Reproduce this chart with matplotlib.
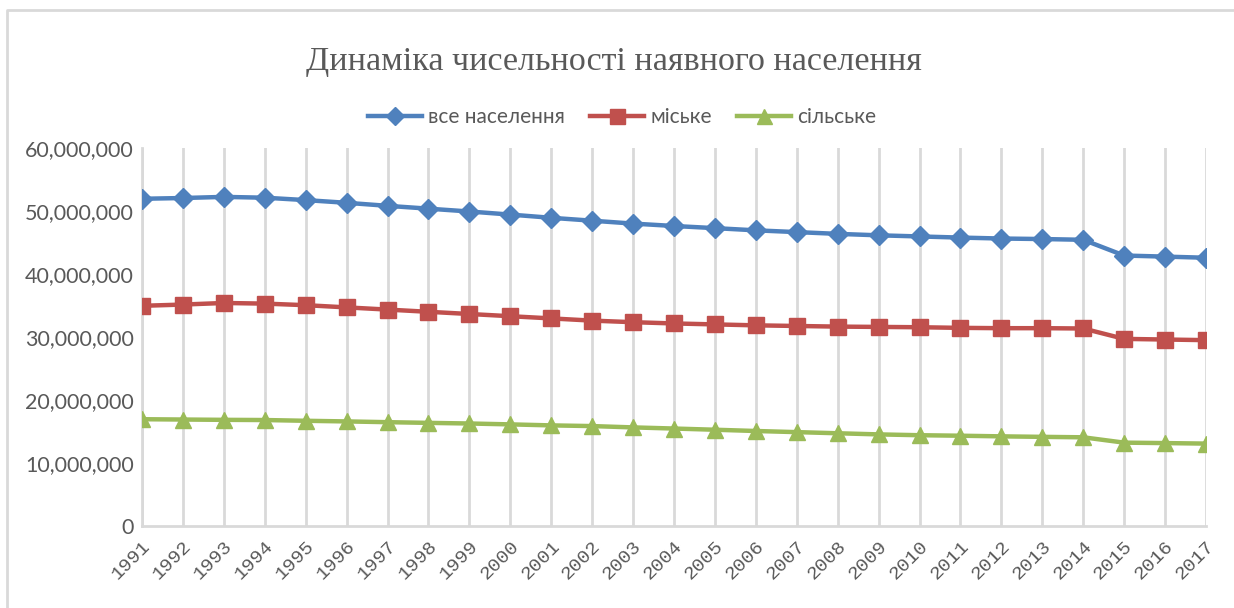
import matplotlib
matplotlib.use("Agg")
import matplotlib.pyplot as plt
from matplotlib.lines import Line2D
from matplotlib.ticker import FuncFormatter

years = list(range(1991, 2018))
total = [51.94, 52.06, 52.24, 52.11, 51.73, 51.30, 50.82, 50.37, 49.92, 49.43,
         48.92, 48.46, 48.00, 47.62, 47.28, 46.93, 46.65, 46.37, 46.14, 45.96,
         45.78, 45.63, 45.55, 45.43, 42.93, 42.76, 42.58]
urban = [34.95, 35.15, 35.40, 35.30, 35.05, 34.70, 34.35, 34.00, 33.65, 33.30,
         32.95, 32.60, 32.35, 32.15, 32.00, 31.85, 31.75, 31.65, 31.60, 31.55,
         31.45, 31.40, 31.40, 31.35, 29.70, 29.60, 29.50]
rural = [16.95, 16.90, 16.85, 16.82, 16.70, 16.60, 16.48, 16.37, 16.27, 16.13,
         15.97, 15.86, 15.65, 15.47, 15.28, 15.08, 14.90, 14.72, 14.54, 14.41,
         14.33, 14.23, 14.15, 14.08, 13.23, 13.16, 13.08]
series_names = ["все населення", "міське", "сільське"]
y_ticks = [0, 10e6, 20e6, 30e6, 40e6, 50e6, 60e6]

colors = ["#4F81BD", "#C0504D", "#9BBB59"]
markers = ["D", "s", "^"]
msizes = [10, 12, 12]
grey = "#595959"
gridc = "#D9D9D9"

fig = plt.figure(figsize=(12.34, 6.08), dpi=100)
ax = fig.add_axes([142/1234, 1 - 526/608, (1206 - 142)/1234, (526 - 148)/608])

for vals, name, c, m, ms in zip([total, urban, rural], series_names, colors, markers, msizes):
    ax.plot(years, [v * 1e6 for v in vals], color=c, lw=3.2, marker=m, ms=ms,
            label=name, solid_joinstyle="round", zorder=3)

ax.set_xlim(1991, 2017)
ax.set_ylim(0, 60e6)
ax.set_yticks(y_ticks)
ax.yaxis.set_major_formatter(FuncFormatter(lambda v, p: f"{int(v):,}"))
ax.set_xticks(years)
ax.set_xticklabels([str(y) for y in years], rotation=45, ha="right", va="top",
                   rotation_mode="anchor", fontsize=14, color=grey,
                   family="Liberation Mono")
for lbl in ax.get_yticklabels():
    lbl.set_fontsize(15.5)
    lbl.set_color(grey)
    lbl.set_family("Lato")
ax.tick_params(axis="y", length=0, pad=6)
ax.tick_params(axis="x", length=0, pad=8)
ax.grid(axis="x", color=gridc, lw=2)
ax.grid(axis="y", visible=False)
for side in ["top", "right"]:
    ax.spines[side].set_visible(False)
for side in ["left", "bottom"]:
    ax.spines[side].set_color(gridc)
    ax.spines[side].set_linewidth(2)
ax.set_axisbelow(True)

fig.text(0.4976, 0.898, "Динаміка чисельності наявного населення",
         ha="center", va="center", fontsize=24.5, color=grey,
         family="Liberation Serif")

handles = [Line2D([], [], color=c, lw=3.2, marker=m, ms=ms * 0.9)
           for c, m, ms in zip(colors, markers, msizes)]
leg = fig.legend(handles, series_names, loc="center", bbox_to_anchor=(622/1234, 1 - 117/608),
                 ncol=3, frameon=False, fontsize=15, handlelength=2.6,
                 columnspacing=1.2, handletextpad=0.3)
for t in leg.get_texts():
    t.set_color(grey)
    t.set_family("Lato")

fig.add_artist(Line2D([7/1234, 7/1234, 1.05], [0.0, 1 - 10/608, 1 - 10/608],
                      transform=fig.transFigure, color=gridc, lw=2))

fig.savefig("out.png", dpi=100)
